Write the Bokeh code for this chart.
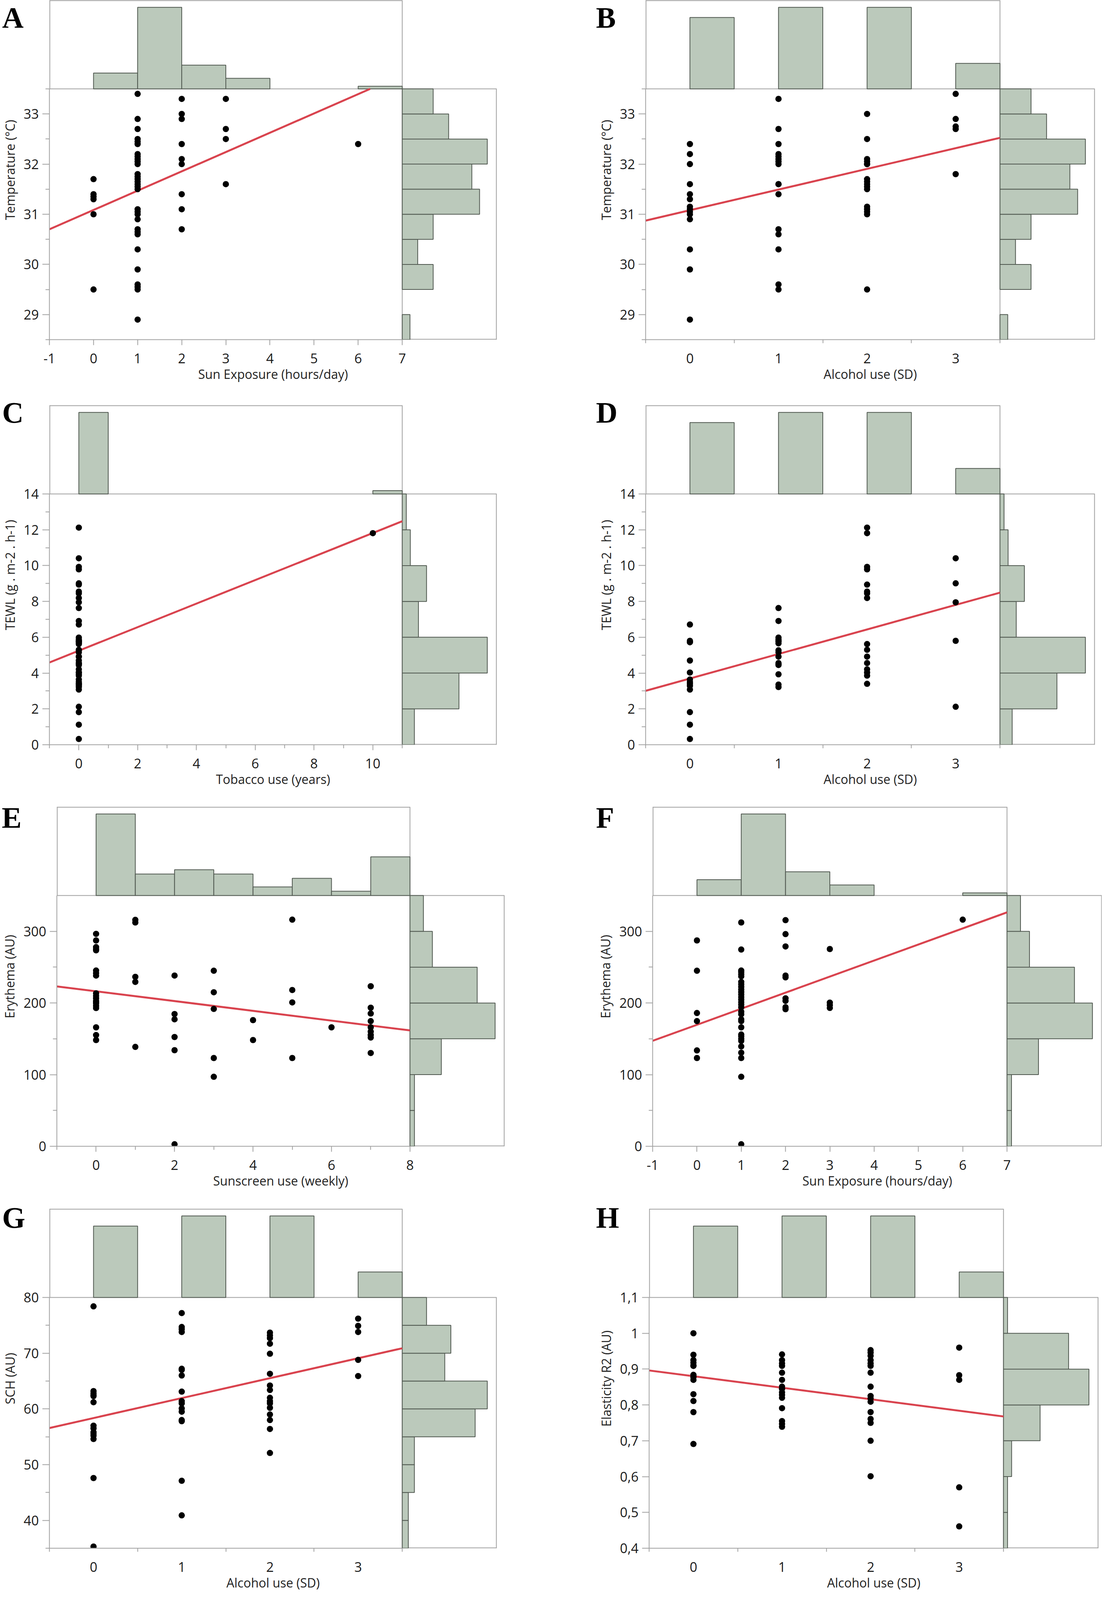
import numpy as np
from bokeh.plotting import figure
from bokeh.models import Range1d, FixedTicker
from bokeh.layouts import column, row
from bokeh.embed import file_html
from bokeh.resources import INLINE

# ------------------------------------------------------------------ data
# A: Sun exposure (hours/day) vs Temperature
A_x = [0, 0, 0, 0, 0, 0,
       1, 1, 1, 1, 1, 1, 1, 1, 1, 1, 1, 1, 1, 1, 1, 1, 1, 1, 1, 1, 1, 1, 1, 1, 1, 1, 1, 1, 1, 1, 1,
       2, 2, 2, 2, 2, 2, 2, 2, 2,
       3, 3, 3, 3,
       6]
A_y = [31.7, 31.4, 31.35, 31.3, 31.0, 29.5,
       33.4, 32.9, 32.7, 32.5, 32.45, 32.4, 32.2, 32.15, 32.1, 32.05, 32.0, 31.8, 31.75, 31.7, 31.65,
       31.6, 31.55, 31.5, 31.1, 31.05, 31.0, 30.9, 30.7, 30.65, 30.6, 30.3, 29.9, 29.6, 29.55, 29.5, 28.9,
       33.3, 33.0, 32.9, 32.4, 32.1, 32.0, 31.4, 31.1, 30.7,
       33.3, 32.7, 32.5, 31.6,
       32.4]
# B: Alcohol use (SD) vs Temperature
B_x = [0, 0, 0, 0, 0, 0, 0, 0, 0, 0, 0, 0, 0, 0,
       1, 1, 1, 1, 1, 1, 1, 1, 1, 1, 1, 1, 1, 1, 1, 1,
       2, 2, 2, 2, 2, 2, 2, 2, 2, 2, 2, 2, 2, 2, 2, 2,
       3, 3, 3, 3, 3]
B_y = [32.4, 32.2, 32.0, 31.6, 31.4, 31.3, 31.15, 31.1, 31.05, 31.0, 30.9, 30.3, 29.9, 28.9,
       33.3, 32.7, 32.4, 32.2, 32.15, 32.1, 32.05, 32.0, 31.6, 31.6, 31.4, 30.7, 30.6, 30.3, 29.6, 29.5,
       33.0, 32.5, 32.1, 32.05, 32.0, 32.0, 31.7, 31.65, 31.6, 31.55, 31.5, 31.15, 31.1, 31.05, 31.0, 29.5,
       33.4, 32.9, 32.75, 32.7, 31.8]
# C: Tobacco use (years) vs TEWL
C_x = [0, 0, 0, 0, 0, 0, 0, 0, 0, 0, 0, 0, 0, 0, 0, 0, 0, 0, 0, 0, 0, 0, 0, 0, 0,
       0, 0, 0, 0, 0, 0, 0, 0, 0, 0, 0, 0, 0, 0, 0, 0, 0, 0, 0, 0, 0, 0, 0, 0, 0,
       10]
C_y = [12.12, 10.41, 9.93, 9.79, 9.01, 8.94, 8.55, 8.45, 8.19, 7.95, 7.63, 6.91, 6.71, 5.98, 5.86,
       5.8, 5.8, 5.8, 5.76, 5.75, 5.72, 5.66, 5.62, 5.3, 5.27, 5.16, 4.92, 4.92, 4.7, 4.56, 4.56,
       4.5, 4.45, 4.21, 4.03, 4.03, 3.93, 3.86, 3.64, 3.5, 3.4, 3.4, 3.36, 3.29, 3.22, 3.08, 2.12,
       1.82, 1.12, 0.32,
       11.81]
# D: Alcohol use (SD) vs TEWL
D_x = B_x
D_y = [6.71, 5.8, 5.75, 5.72, 4.7, 4.03, 3.64, 3.5, 3.4, 3.29, 3.08, 1.82, 1.12, 0.32,
       7.63, 6.91, 5.98, 5.86, 5.8, 5.76, 5.66, 5.27, 5.16, 4.92, 4.56, 4.5, 4.45, 3.93, 3.36, 3.22,
       12.12, 11.81, 9.93, 9.79, 8.94, 8.55, 8.45, 8.19, 5.62, 5.3, 4.92, 4.56, 4.21, 4.03, 3.86, 3.4,
       10.41, 9.01, 7.95, 5.8, 2.12]
# E: Sunscreen use (weekly) vs Erythema
E_x = [0, 0, 0, 0, 0, 0, 0, 0, 0, 0, 0, 0, 0, 0, 0, 0, 0, 0, 0,
       1, 1, 1, 1, 1,
       2, 2, 2, 2, 2, 2,
       3, 3, 3, 3, 3,
       4, 4,
       5, 5, 5, 5,
       6,
       7, 7, 7, 7, 7, 7, 7, 7, 7]
E_y = [296.5, 287.3, 278, 275.3, 273.5, 245.3, 241.7, 238.3, 213.5, 210, 206.5, 203, 201, 199.4,
       196, 193, 166, 155.3, 148.3,
       316, 312.4, 236.5, 229.4, 138.7,
       238.3, 184.6, 177.2, 152.5, 134.1, 2.8,
       245, 215, 191.7, 123.2, 97,
       176.1, 148.3,
       316.3, 218.1, 200.8, 123.2,
       166,
       223.4, 193.4, 185.3, 174.7, 166, 160, 155.3, 151.8, 130.2]
# F: Sun exposure (hours/day) vs Erythema
F_x = A_x
F_y = [287.3, 245, 186, 174.7, 133.8, 123.2,
       312.4, 274.6, 245.3, 243, 240, 237.2, 229.4, 226, 222.4, 218.8, 215.3, 211.8, 208.3, 204.7,
       201.2, 197.7, 194.1, 187.8, 184.3, 177.2, 174.7, 166, 156, 153.5, 150, 147.2, 139.4, 130.6,
       123.2, 97, 2.8,
       315.6, 296.1, 278.9, 238.3, 235.8, 206.5, 203, 194.1, 191.3,
       275.3, 200.5, 197, 193.1,
       316.3]
# G: Alcohol use (SD) vs SCH
G_x = B_x
G_y = [78.4, 63.2, 62.8, 62.5, 62.3, 61.2, 57.0, 56.5, 55.8, 55.5, 55.2, 54.6, 47.6, 35.3,
       77.2, 74.7, 74.3, 73.8, 67.2, 67.0, 66.0, 63.1, 61.4, 61.0, 60.1, 59.5, 58.0, 57.8, 47.1, 40.9,
       73.7, 73.2, 72.7, 71.7, 69.9, 66.3, 64.2, 63.4, 62.0, 61.4, 61.0, 60.2, 59.0, 58.0, 56.4, 52.1,
       76.2, 74.9, 73.8, 68.8, 65.9]
# H: Alcohol use (SD) vs Elasticity R2
H_x = B_x
H_y = [1.0, 0.94, 0.925, 0.918, 0.91, 0.909, 0.884, 0.88, 0.877, 0.87, 0.83, 0.811, 0.78, 0.691,
       0.941, 0.925, 0.916, 0.909, 0.89, 0.87, 0.851, 0.846, 0.845, 0.835, 0.828, 0.82, 0.791, 0.755,
       0.747, 0.739,
       0.953, 0.946, 0.937, 0.925, 0.916, 0.909, 0.89, 0.851, 0.825, 0.818, 0.809, 0.78, 0.761, 0.75,
       0.7, 0.601,
       0.96, 0.883, 0.87, 0.57, 0.461]

# marginal histogram bins and counts
sun_bin_left = [0, 1, 2, 3, 4, 5, 6]
sun_bin_right = [1, 2, 3, 4, 5, 6, 7]
sun_counts = [6, 31, 9, 4, 0, 0, 1]
alc_bin_left = [0, 1, 2, 3]
alc_bin_right = [0.5, 1.5, 2.5, 3.5]
alc_counts = [14, 16, 16, 5]
tob_bin_left = [0, 10]
tob_bin_right = [1, 11]
tob_counts = [49, 2]
sunscreen_bin_left = [0, 1, 2, 3, 4, 5, 6, 7]
sunscreen_bin_right = [1, 2, 3, 4, 5, 6, 7, 8]
sunscreen_counts = [19, 5, 6, 5, 2, 4, 1, 9]
temp_edges = [28.5, 29, 29.5, 30, 30.5, 31, 31.5, 32, 32.5, 33, 33.5]
temp_counts = [1, 0, 4, 2, 4, 10, 9, 11, 6, 4]
tewl_edges = [0, 2, 4, 6, 8, 10, 12, 14]
tewl_counts = [3, 14, 21, 4, 6, 2, 1]
ery_edges = [0, 50, 100, 150, 200, 250, 300, 350]
ery_counts = [1, 1, 7, 19, 15, 5, 3]
sch_edges = [35, 40, 45, 50, 55, 60, 65, 70, 75, 80]
sch_counts = [1, 1, 2, 2, 12, 14, 7, 8, 4]
ela_edges = [0.4, 0.5, 0.6, 0.7, 0.8, 0.9, 1.0, 1.1]
ela_counts = [1, 1, 2, 9, 21, 16, 1]

# fitted lines (intercept, slope)
A_fit = (31.085, 0.385)
B_fit = (31.08, 0.4125)
C_fit = (5.25, 0.657)
D_fit = (3.695, 1.37)
E_fit = (216.3, -6.82)
F_fit = (169.6, 22.41)
G_fit = (58.36, 3.578)
H_fit = (0.8802, -0.0321)

# axis ticks
sun_ticks = [-1, 0, 1, 2, 3, 4, 5, 6, 7]
alc_ticks = [0, 1, 2, 3]
alc_minor = [-0.5, 0.5, 1.5, 2.5, 3.5]
tob_ticks = [0, 2, 4, 6, 8, 10]
tob_minor = [-1, 1, 3, 5, 7, 9, 11]
sunscreen_ticks = [0, 2, 4, 6, 8]
sunscreen_minor = [-1, 1, 3, 5, 7]
temp_ticks = [29, 30, 31, 32, 33]
temp_minor = [28.5, 29.5, 30.5, 31.5, 32.5, 33.5]
tewl_ticks = [0, 2, 4, 6, 8, 10, 12, 14]
tewl_minor = [1, 3, 5, 7, 9, 11, 13]
ery_ticks = [0, 100, 200, 300]
ery_minor = [50, 150, 250]
sch_ticks = [40, 50, 60, 70, 80]
sch_minor = [35, 45, 55, 65, 75]
ela_ticks = [0.4, 0.5, 0.6, 0.7, 0.8, 0.9, 1.0, 1.1]
ela_tick_labels = ["0,4", "0,5", "0,6", "0,7", "0,8", "0,9", "1", "1,1"]

# ------------------------------------------------------------------ style / geometry
FW, FH, HW, TH = 907, 642, 243, 227
HIST_FILL = "#BBC9BB"
HIST_LINE = "#505850"
GRAY = "#A0A0A0"
RED = "#D9434E"
FONT = "Open Sans"
LEFT_W, RIGHT_W = 1418, 1402


def make_panel(letter, xs, ys, xr, yr, xt, xm, yt, ym, xlabel, ylabel,
               tl, tr, tc, redges, rc, fit, off, width, rowgeo, letter_x,
               hide_x_major=False, ylabels=None):
    top_b, bb, letter_standoff = rowgeo
    x0, x1 = xr
    y0, y1 = yr
    xe = x0 + (x1 - x0) * (FW + HW) / FW
    ye = y0 + (y1 - y0) * (FH + TH) / FH
    p = figure(width=width, height=top_b + TH + FH + bb,
               x_range=Range1d(x0, xe), y_range=Range1d(y0, ye),
               min_border_left=off, min_border_right=width - off - FW - HW,
               min_border_top=top_b, min_border_bottom=bb,
               output_backend="svg", toolbar_location=None)
    p.outline_line_color = None
    p.xgrid.grid_line_color = None
    p.ygrid.grid_line_color = None

    tmax = max(tc) / 0.92
    rmax = max(rc) / 0.90
    p.extra_y_ranges = {"th": Range1d(-tmax * FH / TH, tmax)}
    p.extra_x_ranges = {"rh": Range1d(-rmax * FW / HW, rmax)}

    # box lines of main area and margins (inner ones and ones on the frame edge)
    p.segment(x0=[x0, x1], y0=[y1, y0], x1=[xe, x1], y1=[y1, ye],
              line_color=GRAY, line_width=2)
    p.segment(x0=[x0, xe, x0, x1], y0=[ye, y0, y1, y0], x1=[x1, xe, x0, xe], y1=[ye, y1, ye, y0],
              line_color=GRAY, line_width=4)

    # top histogram
    keep = [i for i, c in enumerate(tc) if c > 0]
    p.quad(left=[tl[i] for i in keep], right=[tr[i] for i in keep], bottom=0,
           top=[tc[i] for i in keep], y_range_name="th",
           fill_color=HIST_FILL, line_color=HIST_LINE, line_width=2)
    # right histogram
    keep = [i for i, c in enumerate(rc) if c > 0]
    p.quad(left=0, right=[rc[i] for i in keep], bottom=[redges[i] for i in keep],
           top=[redges[i + 1] for i in keep], x_range_name="rh",
           fill_color=HIST_FILL, line_color=HIST_LINE, line_width=2)

    # fitted line clipped to the main area
    a, b = fit
    lx = np.array([x0, x1], dtype=float)
    ly = a + b * lx
    for i in range(2):
        if ly[i] > y1:
            lx[i] = (y1 - a) / b
            ly[i] = y1
        elif ly[i] < y0:
            lx[i] = (y0 - a) / b
            ly[i] = y0
    p.line(lx, ly, line_color=RED, line_width=5)

    p.scatter(xs, ys, size=16, fill_color="black", line_color=None)

    xa = p.xaxis[0]
    ya = p.yaxis[0]
    xa.bounds = (x0, x1)
    ya.bounds = (y0, y1)
    xa.ticker = FixedTicker(ticks=xt, minor_ticks=xm)
    ya.ticker = FixedTicker(ticks=yt, minor_ticks=ym)
    for ax in (xa, ya):
        ax.axis_line_color = GRAY
        ax.axis_line_width = 2
        ax.major_tick_line_color = GRAY
        ax.major_tick_line_width = 2
        ax.minor_tick_line_color = GRAY
        ax.minor_tick_line_width = 2
        ax.major_tick_in = 0
        ax.minor_tick_in = 0
        ax.major_label_text_font = FONT
        ax.major_label_text_font_size = "34px"
        ax.major_label_text_color = "#1a1a1a"
        ax.axis_label_text_font = FONT
        ax.axis_label_text_font_size = "32px"
        ax.axis_label_text_font_style = "normal"
        ax.axis_label_text_color = "#222222"
    xa.axis_label = xlabel
    ya.axis_label = ylabel
    xa.major_tick_out = 14
    xa.minor_tick_out = 9
    xa.major_label_standoff = 21
    xa.axis_label_standoff = 3
    ya.major_tick_out = 18
    ya.minor_tick_out = 10
    ya.major_label_standoff = 9
    ya.axis_label_standoff = 11
    if hide_x_major:
        xa.major_tick_line_color = None
    if min(xt) < 0:
        xa.major_label_overrides = {t: str(t) for t in xt if t < 0}
    if ylabels is not None:
        ya.major_label_overrides = dict(zip(yt, ylabels))

    # panel letter as the figure title, pulled down beside the top histogram
    p.title.text = letter
    p.title.align = "left"
    p.title.vertical_align = "bottom"
    p.title.offset = -off + letter_x
    p.title.standoff = letter_standoff
    p.title.text_font = "Liberation Serif"
    p.title.text_font_style = "bold"
    p.title.text_font_size = "76px"
    p.title.text_color = "black"
    return p


# per row: (top border, bottom border, letter title standoff)
ROW1 = (0, 142, -172)
ROW2 = (26, 133, -120)
ROW3 = (26, 134, -138)
ROW4 = (26, 124, -128)

pA = make_panel("A", A_x, A_y, (-1, 7), (28.5, 33.5), sun_ticks, [], temp_ticks, temp_minor,
                "Sun Exposure (hours/day)", "Temperature (°C)",
                sun_bin_left, sun_bin_right, sun_counts, temp_edges, temp_counts, A_fit,
                121, LEFT_W, ROW1, 0)
pB = make_panel("B", B_x, B_y, (-0.5, 3.5), (28.5, 33.5), alc_ticks, alc_minor, temp_ticks, temp_minor,
                "Alcohol use (SD)", "Temperature (°C)",
                alc_bin_left, alc_bin_right, alc_counts, temp_edges, temp_counts, B_fit,
                234, RIGHT_W, ROW1, 107, hide_x_major=True)
pC = make_panel("C", C_x, C_y, (-1, 11), (0, 14), tob_ticks, tob_minor, tewl_ticks, tewl_minor,
                "Tobacco use (years)", "TEWL (g . m-2 . h-1)",
                tob_bin_left, tob_bin_right, tob_counts, tewl_edges, tewl_counts, C_fit,
                121, LEFT_W, ROW2, 0)
pD = make_panel("D", D_x, D_y, (-0.5, 3.5), (0, 14), alc_ticks, alc_minor, tewl_ticks, tewl_minor,
                "Alcohol use (SD)", "TEWL (g . m-2 . h-1)",
                alc_bin_left, alc_bin_right, alc_counts, tewl_edges, tewl_counts, D_fit,
                234, RIGHT_W, ROW2, 107, hide_x_major=True)
pE = make_panel("E", E_x, E_y, (-1, 8), (0, 350), sunscreen_ticks, sunscreen_minor, ery_ticks, ery_minor,
                "Sunscreen use (weekly)", "Erythema (AU)",
                sunscreen_bin_left, sunscreen_bin_right, sunscreen_counts, ery_edges, ery_counts, E_fit,
                141, LEFT_W, ROW3, 0)
pF = make_panel("F", F_x, F_y, (-1, 7), (0, 350), sun_ticks, [], ery_ticks, ery_minor,
                "Sun Exposure (hours/day)", "Erythema (AU)",
                sun_bin_left, sun_bin_right, sun_counts, ery_edges, ery_counts, F_fit,
                252, RIGHT_W, ROW3, 107)
pG = make_panel("G", G_x, G_y, (-0.5, 3.5), (35, 80), alc_ticks, alc_minor, sch_ticks, sch_minor,
                "Alcohol use (SD)", "SCH (AU)",
                alc_bin_left, alc_bin_right, alc_counts, sch_edges, sch_counts, G_fit,
                121, LEFT_W, ROW4, 0, hide_x_major=True)
pH = make_panel("H", H_x, H_y, (-0.5, 3.5), (0.4, 1.1), alc_ticks, alc_minor, ela_ticks, [],
                "Alcohol use (SD)", "Elasticity R2 (AU)",
                alc_bin_left, alc_bin_right, alc_counts, ela_edges, ela_counts, H_fit,
                243, RIGHT_W, ROW4, 107, hide_x_major=True, ylabels=ela_tick_labels)

layout = column(row(pA, pB), row(pC, pD), row(pE, pF), row(pG, pH))

with open("out.html", "w") as f:
    f.write(file_html(layout, INLINE))
